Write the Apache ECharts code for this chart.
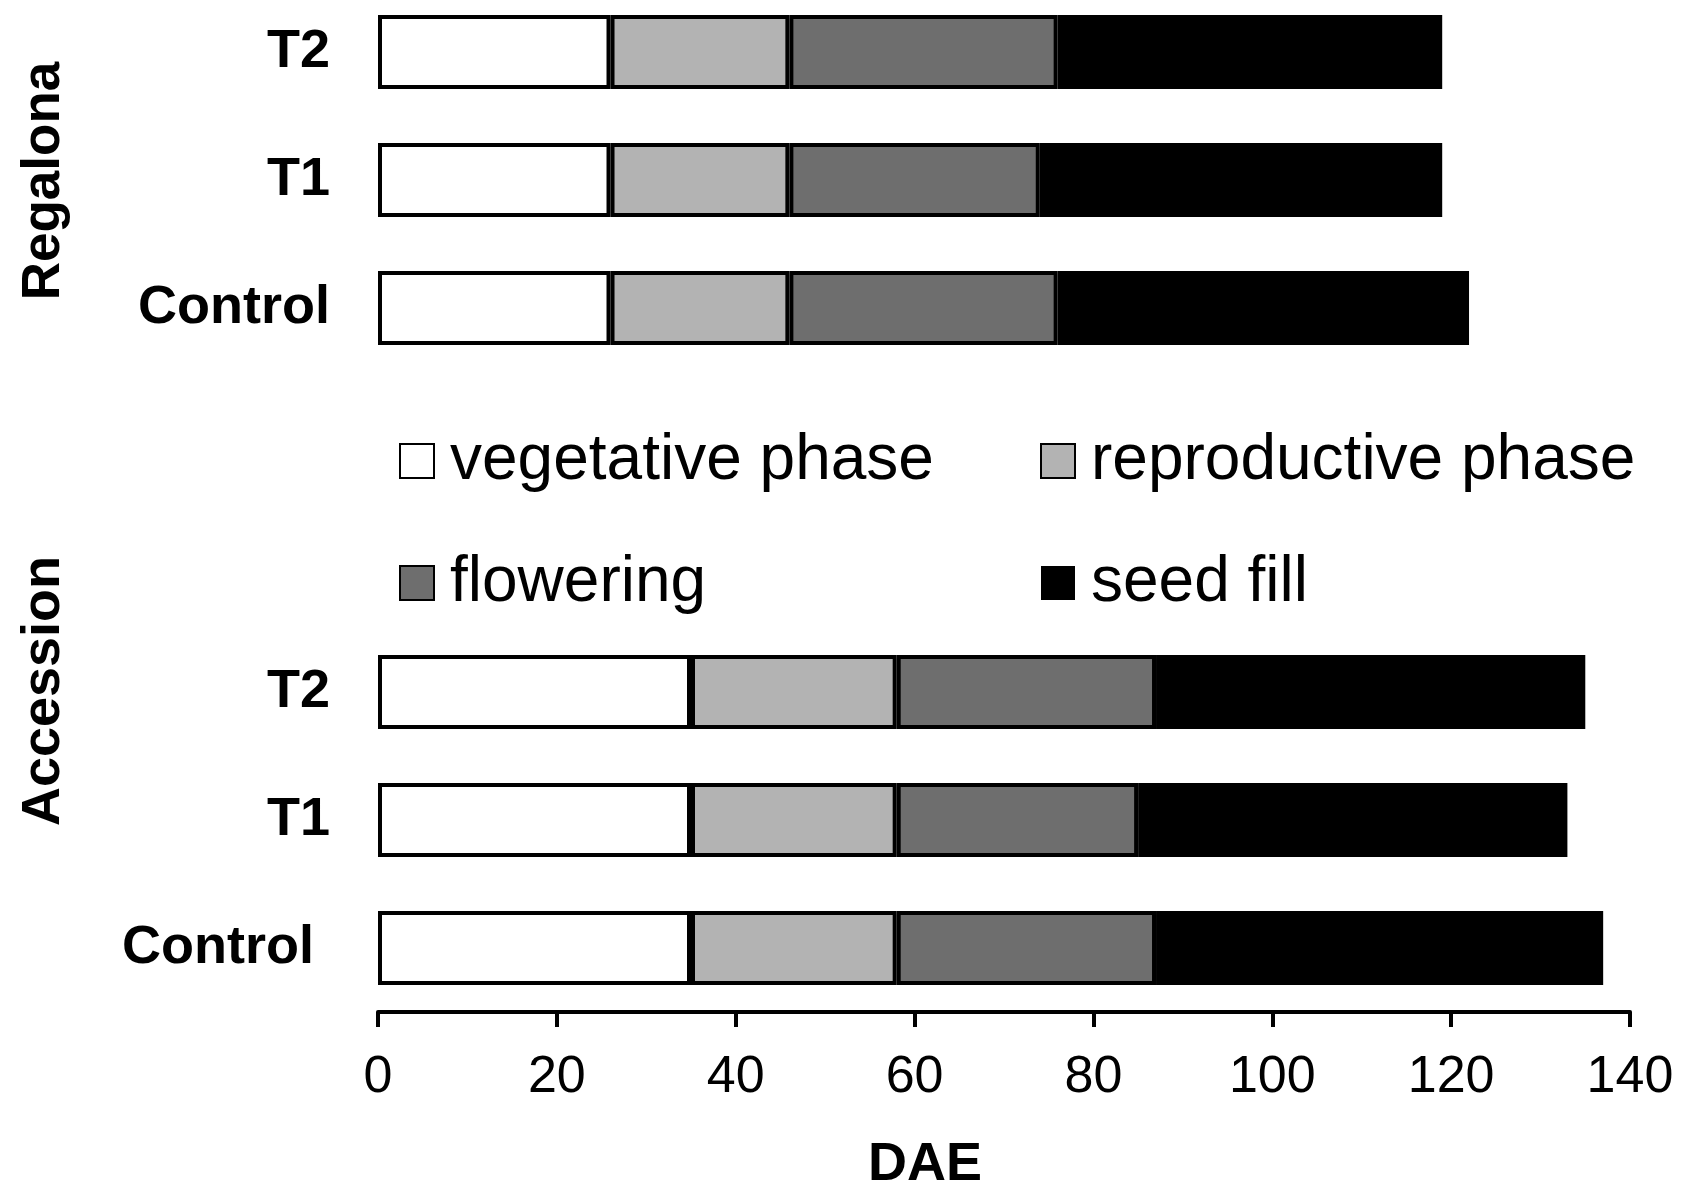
<!DOCTYPE html>
<html>
<head>
<meta charset="utf-8">
<script src="https://cdn.jsdelivr.net/npm/echarts@6/dist/echarts.min.js"></script>
<style>html,body{margin:0;padding:0;background:#fff}#c{width:1695px;height:1200px}</style>
</head>
<body>
<div id="c"></div>
<script>
// Category slots (top to bottom); two empty slots separate the groups
const categories = ['R-T2', 'R-T1', 'R-Control', 'gap1', 'gap2', 'A-T2', 'A-T1', 'A-Control'];
const categoryLabels = ['T2', 'T1', 'Control', '', '', 'T2', 'T1', 'Control'];
const groupNames = ['Regalona', 'Accession'];
const phaseNames = ['vegetative phase', 'reproductive phase', 'flowering', 'seed fill'];
// Duration of each phase (days) per slot
const vegetative   = [26, 26, 26, null, null, 35, 35, 35];
const reproductive = [20, 20, 20, null, null, 23, 23, 23];
const flowering    = [30, 28, 30, null, null, 29, 27, 29];
const seedFill     = [43, 45, 46, null, null, 48, 48, 50];
const xTicks = [0, 20, 40, 60, 80, 100, 120, 140];

const FONT = 'Liberation Sans, Arial, Helvetica, sans-serif';
const chart = echarts.init(document.getElementById('c'));

function barSeries(name, data, color, border) {
  return {
    name: name, type: 'bar', stack: 'total', data: data,
    barWidth: 74,
    itemStyle: { color: color, borderColor: '#000', borderWidth: border },
    emphasis: { disabled: true },
    animation: false
  };
}

const legendText = { fontSize: 64, fontFamily: FONT, color: '#000', lineHeight: 64, padding: [0, 0, 0, 11] };

chart.setOption({
  backgroundColor: '#fff',
  animation: false,
  grid: { left: 378, right: 65, top: -12, bottom: 188, containLabel: false, outerBoundsMode: 'none' },
  xAxis: {
    type: 'value', min: xTicks[0], max: xTicks[xTicks.length - 1], interval: 20,
    axisLine: { show: true, lineStyle: { color: '#000', width: 4 } },
    axisTick: { show: true, length: 15, lineStyle: { color: '#000', width: 4 } },
    splitLine: { show: false },
    axisLabel: { color: '#000', fontSize: 52, fontFamily: FONT, margin: 40 },
    name: 'DAE', nameLocation: 'middle', nameGap: 126,
    nameTextStyle: { color: '#000', fontSize: 54, fontWeight: 'bold', fontFamily: FONT, padding: [0, 158, 0, 0] }
  },
  yAxis: {
    type: 'category', data: categories, inverse: true,
    axisLine: { show: false }, axisTick: { show: false }, splitLine: { show: false },
    axisLabel: {
      color: '#000', fontSize: 54, fontWeight: 'bold', fontFamily: FONT, margin: 48,
      formatter: function (v, i) { return i === 7 ? '{p|' + categoryLabels[i] + '}' : categoryLabels[i]; },
      rich: { p: { fontSize: 54, fontWeight: 'bold', fontFamily: FONT, color: '#000', padding: [0, 16, 0, 0] } }
    }
  },
  legend: [
    {
      data: [phaseNames[0], phaseNames[2]], orient: 'vertical', left: 394, top: 424,
      itemWidth: 34, itemHeight: 34, itemGap: 58, icon: 'rect',
      textStyle: legendText, selectedMode: false
    },
    {
      data: [phaseNames[1], phaseNames[3]], orient: 'vertical', left: 1035, top: 424,
      itemWidth: 34, itemHeight: 34, itemGap: 58, icon: 'rect',
      textStyle: legendText, selectedMode: false
    }
  ],
  graphic: [
    { type: 'text', x: 44, y: 181, rotation: Math.PI / 2,
      style: { text: groupNames[0], fontSize: 53, fontWeight: 'bold', fontFamily: FONT, fill: '#000', align: 'center', verticalAlign: 'middle' } },
    { type: 'text', x: 44, y: 691, rotation: Math.PI / 2,
      style: { text: groupNames[1], fontSize: 54, fontWeight: 'bold', fontFamily: FONT, fill: '#000', align: 'center', verticalAlign: 'middle' } }
  ],
  series: [
    barSeries(phaseNames[0], vegetative, '#ffffff', 4),
    barSeries(phaseNames[1], reproductive, '#b3b3b3', 4),
    barSeries(phaseNames[2], flowering, '#6e6e6e', 4),
    barSeries(phaseNames[3], seedFill, '#000000', 0)
  ]
});
</script>
</body>
</html>
